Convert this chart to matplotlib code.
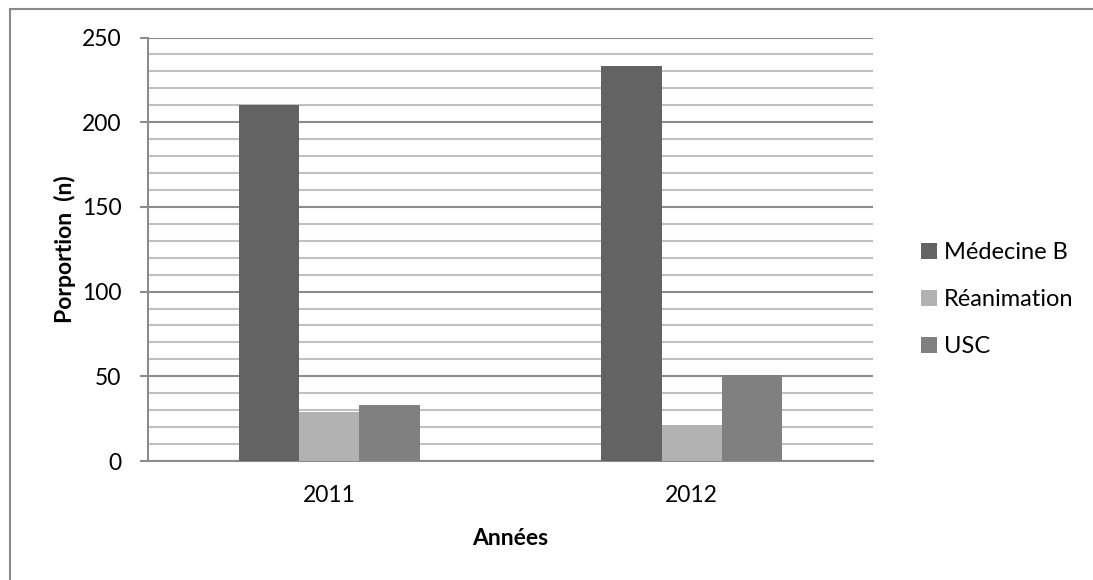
import matplotlib
matplotlib.use("Agg")
import matplotlib.pyplot as plt
from matplotlib.patches import Rectangle
from matplotlib.ticker import MultipleLocator
import numpy as np

categories = ["2011", "2012"]
series_names = ["Médecine B", "Réanimation", "USC"]
medecine_b = [210, 233]
reanimation = [29, 21]
usc = [33, 51]
series_values = [medecine_b, reanimation, usc]
colors = ["#636363", "#b2b2b2", "#808080"]

plt.rcParams['font.family'] = ['Lato', 'DejaVu Sans']

W, H = 1093, 580
fig = plt.figure(figsize=(W / 100, H / 100), dpi=100)
fig.patch.set_facecolor("white")

# outer chart border (left and top visible)
fig.patches.append(Rectangle((9.5 / W, -0.1), 1.2, (H - 8.5) / H + 0.1,
                             transform=fig.transFigure, fill=False,
                             edgecolor="#8a8a8a", linewidth=1.5))

ax = fig.add_axes([148 / W, (H - 461) / H, 725 / W, 423.5 / H])

x = np.arange(len(categories))
bw = 1 / 6
for i, (name, vals, c) in enumerate(zip(series_names, series_values, colors)):
    ax.bar(x + (i - 1) * bw, vals, width=bw, color=c, label=name, zorder=3)

ax.set_xlim(-0.5, len(categories) - 0.5)
ax.set_ylim(0, 250)
ax.yaxis.set_major_locator(MultipleLocator(50))
ax.yaxis.set_minor_locator(MultipleLocator(10))
ax.grid(which="major", axis="y", color="#8c8c8c", linewidth=1.5, zorder=1)
ax.grid(which="minor", axis="y", color="#c0c0c0", linewidth=1.5, zorder=1)
ax.set_xticks(x)
ax.set_xticklabels(categories)

for s in ["top", "right"]:
    ax.spines[s].set_visible(False)
ax.spines["left"].set_color("#8c8c8c")
ax.spines["left"].set_linewidth(1.5)
ax.spines["bottom"].set_color("#8c8c8c")
ax.spines["bottom"].set_linewidth(1.5)

ax.tick_params(axis="y", which="major", length=6, width=1.5, color="#8c8c8c",
               labelsize=16.5, pad=13)
ax.tick_params(axis="y", which="minor", length=0)
ax.tick_params(axis="x", length=0, labelsize=16.5, pad=17)

ax.set_ylabel("Porportion  (n)", fontsize=16.5, fontweight="bold", labelpad=4)
ax.set_xlabel("Années", fontsize=16.5, fontweight="bold", labelpad=16)

leg = fig.legend(loc="upper left", bbox_to_anchor=(912 / W, 1 - 233 / H),
                 frameon=False, fontsize=17, handlelength=0.65, handleheight=0.65,
                 handletextpad=0.3, labelspacing=1.1, borderaxespad=0)

fig.savefig("out.png", dpi=100, facecolor="white")
